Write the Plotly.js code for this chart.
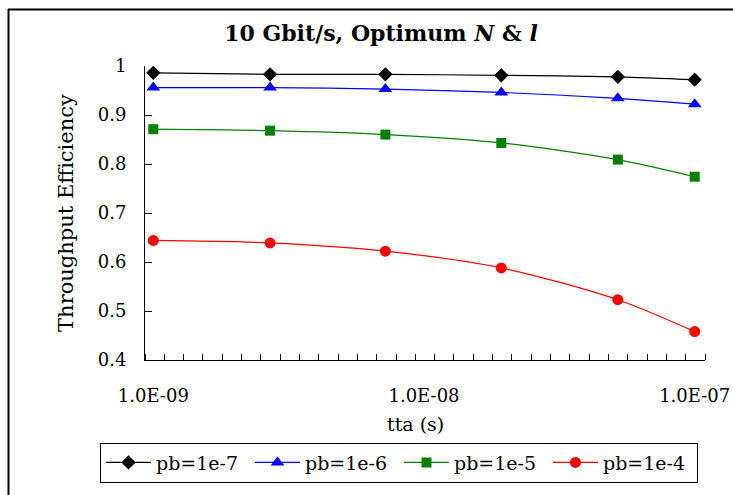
<!DOCTYPE html>
<html>
<head>
<meta charset="utf-8">
<script src="https://cdn.plot.ly/plotly-3.0.1.min.js"></script>
<style>html,body{margin:0;padding:0;background:#fff;}#chart{width:733px;height:495px;}</style>
</head>
<body>
<div id="chart"></div>
<script>
// Data
const tta = [1e-9, 2.7e-9, 7.2e-9, 1.93e-8, 5.2e-8, 1e-7];
const seriesNames = ["pb=1e-7", "pb=1e-6", "pb=1e-5", "pb=1e-4"];
const pb7 = [0.986, 0.983, 0.983, 0.981, 0.978, 0.972];
const pb6 = [0.956, 0.956, 0.953, 0.946, 0.934, 0.922];
const pb5 = [0.871, 0.868, 0.860, 0.843, 0.809, 0.774];
const pb4 = [0.644, 0.639, 0.622, 0.588, 0.523, 0.458];
const xTickVals = [1e-9, 1e-8, 1e-7];
const xTickText = ["1.0E-09", "1.0E-08", "1.0E-07"];

const colors = ["#000000", "#0000FF", "#008000", "#FF0000"];
const symbols = ["diamond", "triangle-up", "square", "circle"];
const sizes = [11, 12, 10, 11];
const allY = [pb7, pb6, pb5, pb4];

const serif = "DejaVu Serif, serif";

const traces = allY.map((ys, i) => ({
  x: tta, y: ys, name: seriesNames[i], type: "scatter", mode: "lines+markers",
  line: {color: colors[i], width: 1.2, shape: "spline", smoothing: 0.8},
  marker: {color: colors[i], symbol: symbols[i], size: sizes[i]},
  xaxis: "x", yaxis: "y"
}));

const L = 145, R = 28, T = 66, B = 130;
const W = 733 - L - R, H = 495 - T - B;
const px = p => (p - L) / W;
const py = p => (495 - B - p) / H;

// x range (log10) and evenly spaced minor ticks as in the original
const xr0 = -9 - 8.3/270.7, xr1 = -7 + 10.3/270.7;
const nMinor = 29;
const minorVals = [];
for (let k = 0; k <= nMinor; k++) minorVals.push(Math.pow(10, xr0 + (xr1 - xr0) * k / nMinor));

const layout = {
  width: 733, height: 495,
  margin: {l: L, r: R, t: T, b: B},
  paper_bgcolor: "#ffffff", plot_bgcolor: "#ffffff",
  showlegend: true,
  title: {
    text: "<b>10 Gbit/s, Optimum <i>N</i> &amp; <i>l</i></b>",
    font: {family: serif, size: 22, color: "#000"},
    xref: "paper", x: px(381), xanchor: "center",
    yref: "container", y: 1 - 33/495, yanchor: "middle"
  },
  xaxis: {
    type: "log",
    range: [xr0, xr1],
    autorange: false,
    tickmode: "array", tickvals: xTickVals, ticktext: xTickText,
    ticks: "", showgrid: false, zeroline: false,
    showline: true, linecolor: "#000", linewidth: 1,
    tickfont: {family: serif, size: 18, color: "#000"},
    ticklabelstandoff: 19,
    minor: {tickmode: "array", tickvals: minorVals, ticks: "inside", ticklen: 6, tickcolor: "#000", tickwidth: 1, showgrid: false}
  },
  yaxis: {
    range: [0.4, 1.0], autorange: false, dtick: 0.1, tick0: 0.4,
    ticks: "inside", ticklen: 7, tickcolor: "#000",
    showgrid: false, zeroline: false,
    showline: true, linecolor: "#000", linewidth: 1,
    tickfont: {family: serif, size: 18, color: "#000"},
    ticklabelstandoff: 14,
    title: {text: "Throughput Efficiency", font: {family: serif, size: 21, color: "#000"}, standoff: 18}
  },
  annotations: [{
    text: "tta (s)", xref: "paper", yref: "paper",
    x: px(415), y: py(430), xanchor: "center", yanchor: "middle",
    showarrow: false, font: {family: serif, size: 19, color: "#000"}
  }],
  legend: {
    orientation: "h", xref: "paper", yref: "paper",
    x: px(100), y: py(449), xanchor: "left", yanchor: "top",
    bordercolor: "#000", borderwidth: 1, bgcolor: "#fff",
    font: {family: serif, size: 19, color: "#000"},
    entrywidth: 89, entrywidthmode: "pixels",
    itemwidth: 45
  },
  shapes: [
    {type: "line", xref: "paper", yref: "paper", x0: px(8), x1: px(745), y0: py(8.5), y1: py(8.5), line: {color: "#000", width: 2}},
    {type: "line", xref: "paper", yref: "paper", x0: px(8.5), x1: px(8.5), y0: py(8), y1: py(505), line: {color: "#000", width: 2}}
  ]
};

Plotly.newPlot("chart", traces, layout, {displayModeBar: false, staticPlot: true});
</script>
</body>
</html>
